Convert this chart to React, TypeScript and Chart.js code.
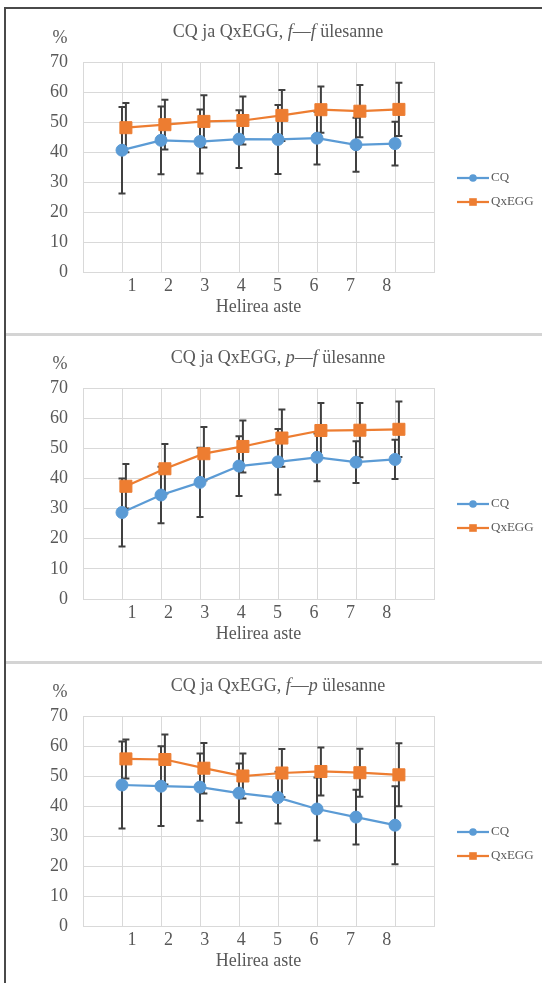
import React, { useEffect, useRef } from 'react';
import { Chart, registerables } from 'chart.js';

Chart.register(...registerables);

// ---------- data ----------
const categories = [1, 2, 3, 4, 5, 6, 7, 8];
const seriesNames = ['CQ', 'QxEGG'];
const xAxisTitle = 'Helirea aste';
const yUnit = '%';
const yTicks = [0, 10, 20, 30, 40, 50, 60, 70];
const panelTasks = [
  ['f', 'f'],
  ['p', 'f'],
  ['f', 'p'],
];

// f—f
const cqFF = [40.6, 43.9, 43.5, 44.3, 44.2, 44.6, 42.4, 42.8];
const cqFFErr = [14.4, 11.3, 10.7, 9.6, 11.5, 8.8, 9.0, 7.3];
const qxFF = [48.1, 49.1, 50.2, 50.5, 52.2, 54.1, 53.6, 54.2];
const qxFFErr = [8.2, 8.3, 8.7, 8.0, 8.5, 7.7, 8.7, 8.9];

// p—f
const cqPF = [28.7, 34.5, 38.7, 44.1, 45.5, 47.0, 45.4, 46.3];
const cqPFErr = [11.3, 9.4, 11.5, 9.9, 10.9, 7.9, 6.9, 6.5];
const qxPF = [37.4, 43.2, 48.2, 50.6, 53.4, 55.9, 56.0, 56.3];
const qxPFErr = [7.4, 8.2, 8.9, 8.6, 9.5, 9.1, 9.0, 9.2];

// f—p
const cqFP = [47.0, 46.6, 46.3, 44.3, 42.8, 39.0, 36.3, 33.6];
const cqFPErr = [14.5, 13.3, 11.2, 9.9, 8.6, 10.5, 9.1, 13.0];
const qxFP = [55.7, 55.5, 52.6, 50.0, 51.0, 51.5, 51.1, 50.4];
const qxFPErr = [6.5, 8.3, 8.4, 7.5, 8.0, 8.0, 8.0, 10.5];

// ---------- style ----------
const BLUE = '#5B9BD5';
const ORANGE = '#ED7D31';
const ERR = '#404040';
const TEXT = '#595959';
const GRID = '#d9d9d9';
const FONT = '"Liberation Serif", "Times New Roman", serif';
const CANVAS_W = 536;
const SERIES_OFFSET = [0, 0.1];

type PanelProps = {
  top: number;
  height: number;
  plotTop: number;
  plotBottom: number;
  task: string[];
  cq: number[];
  cqErr: number[];
  qx: number[];
  qxErr: number[];
};

function Panel(p: PanelProps) {
  const ref = useRef<HTMLCanvasElement>(null);

  useEffect(() => {
    const canvas = ref.current;
    if (!canvas) return;
    const errs = [p.cqErr, p.qxErr];
    const vals = [p.cq, p.qx];
    const colors = [BLUE, ORANGE];
    const styles = ['circle', 'rect'];

    const deco = {
      id: 'deco',
      beforeDatasetsDraw(chart: any) {
        const ctx = chart.ctx;
        const xs = chart.scales.x;
        const ys = chart.scales.y;
        ctx.save();
        ctx.strokeStyle = ERR;
        ctx.lineWidth = 2;
        for (let s = 0; s < vals.length; s++) {
          categories.forEach((c, i) => {
            const px = xs.getPixelForValue(c + SERIES_OFFSET[s]);
            const yT = ys.getPixelForValue(vals[s][i] + errs[s][i]);
            const yB = ys.getPixelForValue(vals[s][i] - errs[s][i]);
            ctx.beginPath();
            ctx.moveTo(px, yT);
            ctx.lineTo(px, yB);
            ctx.moveTo(px - 3.5, yT);
            ctx.lineTo(px + 3.5, yT);
            ctx.moveTo(px - 3.5, yB);
            ctx.lineTo(px + 3.5, yB);
            ctx.stroke();
          });
        }
        ctx.restore();
      },
      afterDraw(chart: any) {
        const ctx = chart.ctx;
        const area = chart.chartArea;
        ctx.save();
        // title with italic task letters
        const parts = [
          { t: 'CQ ja QxEGG, ', it: false },
          { t: p.task[0], it: true },
          { t: '—', it: false },
          { t: p.task[1], it: true },
          { t: ' ülesanne', it: false },
        ];
        const fontOf = (it: boolean) => `${it ? 'italic ' : ''}18px ${FONT}`;
        let total = 0;
        parts.forEach((pt) => {
          ctx.font = fontOf(pt.it);
          total += ctx.measureText(pt.t).width;
        });
        let x = 272 - total / 2;
        const ty = area.top - 30;
        ctx.fillStyle = TEXT;
        ctx.textBaseline = 'middle';
        ctx.textAlign = 'left';
        parts.forEach((pt) => {
          ctx.font = fontOf(pt.it);
          ctx.fillText(pt.t, x, ty);
          x += ctx.measureText(pt.t).width;
        });
        // unit label
        ctx.font = `18px ${FONT}`;
        ctx.textAlign = 'center';
        ctx.fillText(yUnit, 54, area.top - 24);
        // legend
        const lx0 = 451;
        const lx1 = 483;
        const lm = 467;
        seriesNames.forEach((name, s) => {
          const ly = area.top + 116 + s * 24;
          ctx.strokeStyle = colors[s];
          ctx.fillStyle = colors[s];
          ctx.lineWidth = 2.25;
          ctx.beginPath();
          ctx.moveTo(lx0, ly);
          ctx.lineTo(lx1, ly);
          ctx.stroke();
          if (styles[s] === 'circle') {
            ctx.beginPath();
            ctx.arc(lm, ly, 3.8, 0, Math.PI * 2);
            ctx.fill();
          } else {
            ctx.fillRect(lm - 3.8, ly - 3.8, 7.6, 7.6);
          }
          ctx.fillStyle = TEXT;
          ctx.font = `13px ${FONT}`;
          ctx.textAlign = 'left';
          ctx.fillText(name, lx1 + 2, ly);
        });
        ctx.restore();
      },
    };

    const x2Height = 46;
    const padBottom = p.height - (p.plotBottom + x2Height);

    const chart = new Chart(canvas, {
      type: 'line',
      data: {
        datasets: seriesNames.map((name, s) => ({
          label: name,
          data: categories.map((c, i) => ({ x: c + SERIES_OFFSET[s], y: vals[s][i] })),
          borderColor: colors[s],
          backgroundColor: colors[s],
          borderWidth: 2.25,
          pointStyle: styles[s] as any,
          pointRadius: s === 0 ? 6 : 8.5,
          pointBorderWidth: 1,
          pointBorderColor: colors[s],
          pointBackgroundColor: colors[s],
          xAxisID: 'x',
          yAxisID: 'y',
          tension: 0,
        })),
      },
      options: {
        animation: false,
        responsive: false,
        maintainAspectRatio: false,
        events: [],
        layout: {
          padding: { top: p.plotTop, left: 0, right: CANVAS_W - 428, bottom: padBottom },
        },
        plugins: {
          legend: { display: false },
          title: { display: false },
          tooltip: { enabled: false },
        },
        scales: {
          x: {
            type: 'linear',
            position: 'bottom',
            min: 0,
            max: categories.length + 1,
            ticks: { display: false, stepSize: 1 },
            grid: { color: GRID, lineWidth: 1, drawTicks: false },
            border: { color: GRID, width: 1 },
            afterFit: (s: any) => {
              s.height = 0;
            },
          },
          x2: {
            type: 'linear',
            position: 'bottom',
            min: -0.346,
            max: 9.297,
            afterBuildTicks: (s: any) => {
              s.ticks = categories.map((v) => ({ value: v }));
            },
            ticks: {
              color: TEXT,
              font: { family: FONT, size: 18 },
              padding: 3,
              autoSkip: false,
              maxRotation: 0,
              callback: (v: any) => String(v),
            },
            grid: { display: false, drawTicks: false },
            border: { display: false },
            title: {
              display: true,
              text: xAxisTitle,
              color: TEXT,
              font: { family: FONT, size: 18 },
              padding: 0,
            },
            afterFit: (s: any) => {
              s.height = x2Height;
            },
          },
          y: {
            type: 'linear',
            position: 'left',
            min: yTicks[0],
            max: yTicks[yTicks.length - 1],
            afterBuildTicks: (s: any) => {
              s.ticks = yTicks.map((v) => ({ value: v }));
            },
            ticks: {
              color: TEXT,
              font: { family: FONT, size: 18 },
              padding: 15,
            },
            grid: { color: GRID, lineWidth: 1, drawTicks: false },
            border: { color: GRID, width: 1 },
            afterFit: (s: any) => {
              s.width = 77;
            },
          },
        },
      } as any,
      plugins: [deco],
    });
    return () => chart.destroy();
  }, []);

  return (
    <canvas
      ref={ref}
      width={CANVAS_W}
      height={p.height}
      style={{ position: 'absolute', left: 6, top: p.top, width: CANVAS_W, height: p.height }}
    />
  );
}

export default function App() {
  return (
    <div
      style={{
        position: 'absolute',
        left: 0,
        top: 0,
        width: 542,
        height: 983,
        background: '#ffffff',
        overflow: 'hidden',
      }}
    >
      <div style={{ position: 'absolute', left: 4, top: 7, width: 538, height: 2, background: '#4a4a4a' }} />
      <div style={{ position: 'absolute', left: 4, top: 7, width: 2, height: 976, background: '#4a4a4a' }} />
      <div style={{ position: 'absolute', left: 6, top: 333, width: 536, height: 3, background: '#d4d4d4' }} />
      <div style={{ position: 'absolute', left: 6, top: 661, width: 536, height: 3, background: '#d4d4d4' }} />
      <Panel top={9} height={324} plotTop={53} plotBottom={263} task={panelTasks[0]} cq={cqFF} cqErr={cqFFErr} qx={qxFF} qxErr={qxFFErr} />
      <Panel top={336} height={325} plotTop={52} plotBottom={263} task={panelTasks[1]} cq={cqPF} cqErr={cqPFErr} qx={qxPF} qxErr={qxPFErr} />
      <Panel top={664} height={319} plotTop={52} plotBottom={262} task={panelTasks[2]} cq={cqFP} cqErr={cqFPErr} qx={qxFP} qxErr={qxFPErr} />
    </div>
  );
}
